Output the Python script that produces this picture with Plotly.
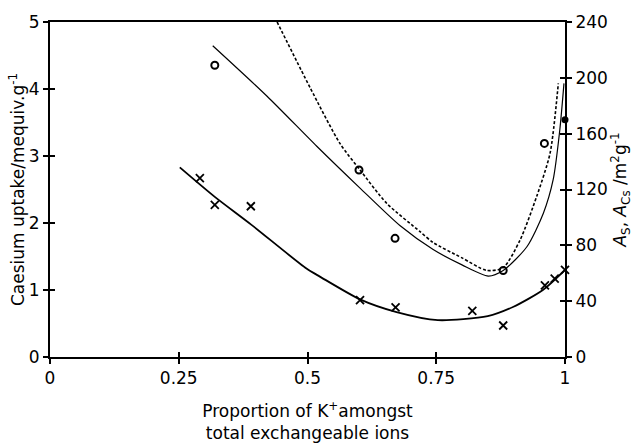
import plotly.graph_objects as go

# Caesium uptake (left axis), crosses
cs_x = [0.291, 0.32, 0.39, 0.602, 0.671, 0.82, 0.88, 0.961, 0.98, 1.0]
cs_y = [2.67, 2.27, 2.25, 0.85, 0.74, 0.69, 0.47, 1.07, 1.17, 1.30]

# Fitted curve for Cs uptake
cs_fit_x = [0.252, 0.32, 0.39, 0.498, 0.524, 0.602, 0.673, 0.753, 0.85, 0.90, 0.957, 1.0]
cs_fit_y = [2.83, 2.39, 1.98, 1.32, 1.20, 0.86, 0.67, 0.55, 0.61, 0.75, 1.0, 1.3]

# Surface area (right axis), open circles
as_x = [0.32, 0.60, 0.67, 0.88, 0.96]
as_y = [209, 134, 85, 62, 153]
# filled point
as_fill_x = [1.0]
as_fill_y = [170]

# Solid thin curve (right axis units)
sol_x = [0.316, 0.421, 0.518, 0.602, 0.68, 0.744, 0.80, 0.851, 0.88, 0.926, 0.958, 0.977, 0.99, 0.998]
sol_y = [223, 187, 151, 121, 94, 77, 66, 58, 62, 79, 103, 127, 163, 196]

# Dashed curve (right axis units)
dash_x = [0.441, 0.505, 0.563, 0.602, 0.654, 0.718, 0.744, 0.80, 0.848, 0.88, 0.913, 0.945, 0.971, 0.987]
dash_y = [240, 193, 153, 134, 110, 90, 82, 71, 62, 64, 84, 115, 146, 196]

x_ticks = [0, 0.25, 0.5, 0.75, 1]
x_labels = ["0", "0.25", "0.5", "0.75", "1"]
yl_ticks = [0, 1, 2, 3, 4, 5]
yr_ticks = [0, 40, 80, 120, 160, 200, 240]

FONT = "DejaVu Sans"
fig = go.Figure()

fig.add_trace(go.Scatter(x=cs_fit_x, y=cs_fit_y, mode="lines",
                         line=dict(color="black", width=1.8, shape="spline", smoothing=0.7),
                         xaxis="x", yaxis="y", showlegend=False))
fig.add_trace(go.Scatter(x=cs_x, y=cs_y, mode="markers",
                         marker=dict(symbol="x-thin-open", size=8, color="black",
                                     line=dict(color="black", width=1.8)),
                         xaxis="x", yaxis="y", showlegend=False, cliponaxis=False))
fig.add_trace(go.Scatter(x=sol_x, y=sol_y, mode="lines",
                         line=dict(color="black", width=1.2, shape="spline", smoothing=0.7),
                         xaxis="x", yaxis="y2", showlegend=False))
fig.add_trace(go.Scatter(x=dash_x, y=dash_y, mode="lines",
                         line=dict(color="black", width=1.6, dash="3px,2px", shape="spline", smoothing=0.7),
                         xaxis="x", yaxis="y2", showlegend=False))
fig.add_trace(go.Scatter(x=as_x, y=as_y, mode="markers",
                         marker=dict(symbol="circle-open", size=7, color="black",
                                     line=dict(color="black", width=2)),
                         xaxis="x", yaxis="y2", showlegend=False))
fig.add_trace(go.Scatter(x=as_fill_x, y=as_fill_y, mode="markers",
                         marker=dict(symbol="circle", size=7, color="black"),
                         xaxis="x", yaxis="y2", showlegend=False, cliponaxis=False))

tickfont = dict(family=FONT, size=17, color="black")
common = dict(showgrid=False, zeroline=False, linecolor="black", linewidth=2,
              tickcolor="black", tickwidth=2, ticklen=5)
tick_only = {k: v for k, v in common.items() if k not in ("linecolor", "linewidth")}

fig.update_layout(
    width=634, height=444,
    margin=dict(l=50, r=69, t=22, b=87, autoexpand=False),
    paper_bgcolor="white", plot_bgcolor="white",
    font=dict(family=FONT, color="black"),
    xaxis=dict(range=[0, 1], tickvals=x_ticks, ticktext=x_labels, ticks="outside",
               showline=True, mirror=True, tickfont=tickfont, automargin=False,
               title=dict(text="Proportion of K<sup>+</sup>amongst<br>total exchangeable ions",
                          font=dict(family=FONT, size=17), standoff=18), **common),
    xaxis2=dict(range=[0, 1], tickvals=x_ticks, ticks="inside", showticklabels=False,
                overlaying="x", showline=False, **tick_only),
    yaxis=dict(range=[0, 5], tickvals=yl_ticks, ticks="outside", showline=True,
               tickfont=tickfont, automargin=False,
               title=dict(text="Caesium uptake/mequiv.g<sup>-1</sup>", font=dict(family=FONT, size=17), standoff=0),
               **common),
    yaxis2=dict(range=[0, 240], tickvals=yr_ticks, ticks="outside", showline=True, side="right",
                overlaying="y", tickfont=tickfont, automargin=False,
                title=dict(text="<i>A</i><sub>S</sub>, <i>A</i><sub>Cs</sub> /m<sup>2</sup>g<sup>-1</sup>",
                           font=dict(family=FONT, size=17), standoff=4),
                **common),
    yaxis3=dict(range=[0, 5], tickvals=yl_ticks, ticks="inside", showticklabels=False, overlaying="y",
                side="left", showline=False, **tick_only),
    yaxis4=dict(range=[0, 240], tickvals=yr_ticks, ticks="inside", showticklabels=False, overlaying="y",
                side="right", showline=False, **tick_only),
)

# invisible traces to activate the tick-only overlay axes
fig.add_trace(go.Scatter(x=[0], y=[0], xaxis="x2", yaxis="y3", mode="markers",
                         marker=dict(opacity=0), showlegend=False, hoverinfo="skip"))
fig.add_trace(go.Scatter(x=[0], y=[0], xaxis="x2", yaxis="y4", mode="markers",
                         marker=dict(opacity=0), showlegend=False, hoverinfo="skip"))

fig.write_html("out.html", config={"displayModeBar": False},
               post_script="document.body.style.margin='0';document.body.style.overflow='hidden';")
